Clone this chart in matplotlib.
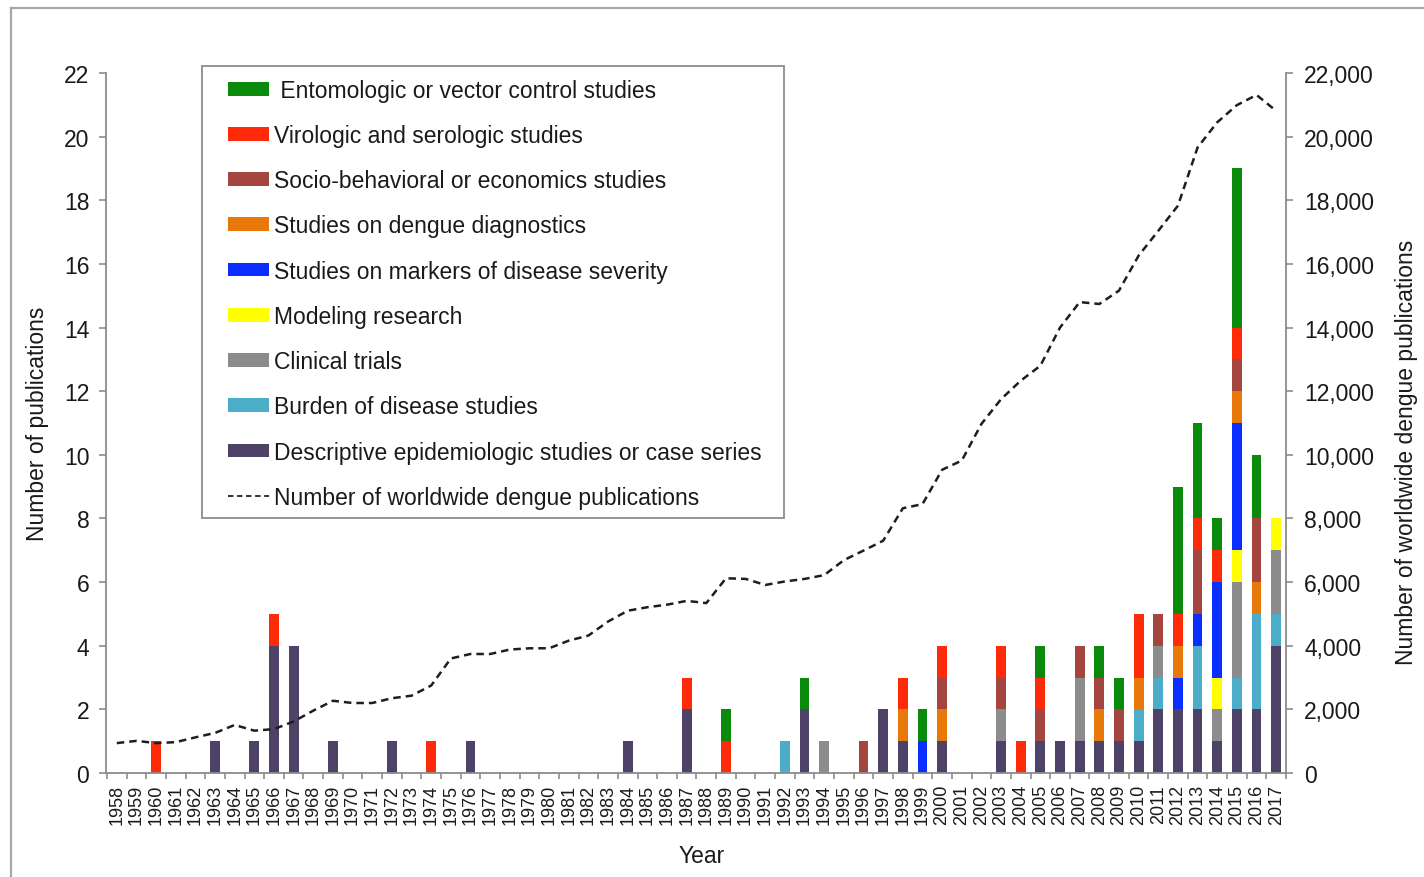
import matplotlib
matplotlib.use("Agg")
import matplotlib.pyplot as plt
from matplotlib.patches import Patch, Rectangle
from matplotlib.lines import Line2D
from matplotlib.ticker import FuncFormatter, MultipleLocator, FixedLocator
import numpy as np

plt.rcParams['font.family'] = ['Liberation Sans', 'DejaVu Sans']

years = list(range(1958, 2018))

# publications per category (bottom to top of the stack)
descriptive = [0,0,0,0,0,1,0,1,4,4, 0,1,0,0,1,0,0,0,1,0, 0,0,0,0,0,0,1,0,0,2,
               0,0,0,0,0,2,0,0,0,2, 1,0,1,0,0,1,0,1,1,1, 1,1,1,2,2,2,1,2,2,4]
burden      = [0,0,0,0,0,0,0,0,0,0, 0,0,0,0,0,0,0,0,0,0, 0,0,0,0,0,0,0,0,0,0,
               0,0,0,0,1,0,0,0,0,0, 0,0,0,0,0,0,0,0,0,0, 0,0,1,1,0,2,0,1,3,1]
clinical    = [0,0,0,0,0,0,0,0,0,0, 0,0,0,0,0,0,0,0,0,0, 0,0,0,0,0,0,0,0,0,0,
               0,0,0,0,0,0,1,0,0,0, 0,0,0,0,0,1,0,0,0,2, 0,0,0,1,0,0,1,3,0,2]
modeling    = [0,0,0,0,0,0,0,0,0,0, 0,0,0,0,0,0,0,0,0,0, 0,0,0,0,0,0,0,0,0,0,
               0,0,0,0,0,0,0,0,0,0, 0,0,0,0,0,0,0,0,0,0, 0,0,0,0,0,0,1,1,0,1]
markers     = [0,0,0,0,0,0,0,0,0,0, 0,0,0,0,0,0,0,0,0,0, 0,0,0,0,0,0,0,0,0,0,
               0,0,0,0,0,0,0,0,0,0, 0,1,0,0,0,0,0,0,0,0, 0,0,0,0,1,1,3,4,0,0]
diagnostics = [0,0,0,0,0,0,0,0,0,0, 0,0,0,0,0,0,0,0,0,0, 0,0,0,0,0,0,0,0,0,0,
               0,0,0,0,0,0,0,0,0,0, 1,0,1,0,0,0,0,0,0,0, 1,0,1,0,1,0,0,1,1,0]
socio       = [0,0,0,0,0,0,0,0,0,0, 0,0,0,0,0,0,0,0,0,0, 0,0,0,0,0,0,0,0,0,0,
               0,0,0,0,0,0,0,0,1,0, 0,0,1,0,0,1,0,1,0,1, 1,1,0,1,0,2,0,1,2,0]
virologic   = [0,0,1,0,0,0,0,0,1,0, 0,0,0,0,0,0,1,0,0,0, 0,0,0,0,0,0,0,0,0,1,
               0,1,0,0,0,0,0,0,0,0, 1,0,1,0,0,1,1,1,0,0, 0,0,2,0,1,1,1,1,0,0]
entomologic = [0,0,0,0,0,0,0,0,0,0, 0,0,0,0,0,0,0,0,0,0, 0,0,0,0,0,0,0,0,0,0,
               0,1,0,0,0,1,0,0,0,0, 0,1,0,0,0,0,0,1,0,0, 1,1,0,0,4,3,1,5,2,0]

# worldwide dengue publications (right axis)
worldwide = [940, 1010, 940, 970, 1120, 1260, 1510, 1330, 1380, 1620,
             1960, 2270, 2200, 2200, 2350, 2430, 2750, 3600, 3740, 3740,
             3880, 3920, 3920, 4160, 4320, 4760, 5100, 5210, 5290, 5410,
             5340, 6120, 6100, 5910, 6020, 6100, 6220, 6690, 6990, 7300,
             8320, 8450, 9530, 9820, 10970, 11750, 12330, 12800, 14000, 14800,
             14740, 15160, 16260, 17040, 17830, 19660, 20450, 20990, 21310, 20810]

series = [
    ("Descriptive epidemiologic studies or case series", descriptive, '#4E4266'),
    ("Burden of disease studies", burden, '#4BADC8'),
    ("Clinical trials", clinical, '#8C8C8C'),
    ("Modeling research", modeling, '#FFFF00'),
    ("Studies on markers of disease severity", markers, '#0A2EFF'),
    ("Studies on dengue diagnostics", diagnostics, '#E8780A'),
    ("Socio-behavioral or economics studies", socio, '#A5453F'),
    ("Virologic and serologic studies", virologic, '#FF2A0A'),
    (" Entomologic or vector control studies", entomologic, '#0A8A0A'),
]

W, H = 1424, 878
fig = plt.figure(figsize=(W / 100, H / 100), dpi=100)
L, R, B, T = 106, 1286, 774, 74
ax = fig.add_axes([L / W, 1 - B / H, (R - L) / W, (B - T) / H])

x = np.arange(len(years))
bottom = np.zeros(len(years))
for label, vals, col in series:
    v = np.array(vals, dtype=float)
    ax.bar(x, v, width=0.5, bottom=bottom, color=col, linewidth=0)
    bottom += v

grey = '#8C8C8C'
txt = '#1A1A1A'
ax.set_xlim(-0.55, len(years) - 0.5)
ax.set_ylim(0, 22)
ax.yaxis.set_major_locator(MultipleLocator(2))
ax.set_xticks(x)
ax.set_xticklabels([str(y) for y in years], rotation=90, fontsize=13, color=txt)
ax.xaxis.set_minor_locator(FixedLocator(np.arange(-0.5, len(years), 1.0)))
ax.tick_params(axis='x', which='major', length=0, pad=8)
ax.tick_params(axis='x', which='minor', length=4, width=1.2, color=grey, direction='out')
ax.tick_params(axis='y', which='major', length=5, width=1.2, color=grey, labelsize=16.5,
               labelcolor=txt, pad=7)
for s in ['top', 'right']:
    ax.spines[s].set_visible(False)
for s in ['left', 'bottom']:
    ax.spines[s].set_color(grey)
    ax.spines[s].set_linewidth(1.3)

ax2 = ax.twinx()
ax2.plot(x, worldwide, color='#1E1E1E', lw=1.8, linestyle=(0, (3, 2)))
ax2.set_ylim(0, 22000)
ax2.yaxis.set_major_locator(MultipleLocator(2000))
ax2.yaxis.set_major_formatter(FuncFormatter(lambda v, p: f"{int(v):,}"))
ax2.tick_params(axis='y', length=5, width=1.2, color=grey, labelsize=16.5,
                labelcolor=txt, pad=8)
for s in ['top', 'left']:
    ax2.spines[s].set_visible(False)
ax2.spines['right'].set_color(grey)
ax2.spines['right'].set_linewidth(1.3)
ax2.spines['bottom'].set_visible(False)

ax.set_xlabel("Year", fontsize=16.5, color=txt)
ax.xaxis.set_label_coords(0.505, -0.101)
ax.set_ylabel("Number of publications", fontsize=16.5, color=txt)
ax.yaxis.set_label_coords(-0.048, 0.5)
ax2.set_ylabel("Number of worldwide dengue publications", fontsize=16.5, color=txt)
ax2.yaxis.set_label_coords(1.092, 0.459)

handles = [Patch(facecolor=col, edgecolor='none', label=label)
           for label, vals, col in reversed(series)]
handles.append(Line2D([], [], color='#222222', lw=1.3, linestyle=(0, (3, 2)),
                      label="Number of worldwide dengue publications"))

# legend frame drawn separately, legend content placed inside it
box = Rectangle((202 / W, 1 - 519 / H), (784 - 202) / W, (519 - 67) / H,
                transform=fig.transFigure, facecolor='white', edgecolor='#8C8C8C',
                lw=1.3, zorder=4)
fig.add_artist(box)
leg = ax.legend(handles=handles, loc='upper left',
                bbox_to_anchor=(214 / W, 1 - 66 / H), bbox_transform=fig.transFigure,
                fontsize=16.5, frameon=False, borderpad=0.6, labelspacing=0.97,
                handlelength=1.8, handleheight=0.55, handletextpad=0.2,
                borderaxespad=0)
for t in leg.get_texts():
    t.set_color(txt)
leg.remove()
fig.add_artist(leg)
leg.set_zorder(5)

# outer frame of the figure
fig.add_artist(Line2D([11 / W, 1], [1 - 9 / H, 1 - 9 / H], transform=fig.transFigure,
                      color='#A8A8A8', lw=1.6))
fig.add_artist(Line2D([11 / W, 11 / W], [0, 1 - 9 / H], transform=fig.transFigure,
                      color='#A8A8A8', lw=1.6))

fig.savefig("out.png", dpi=100)
